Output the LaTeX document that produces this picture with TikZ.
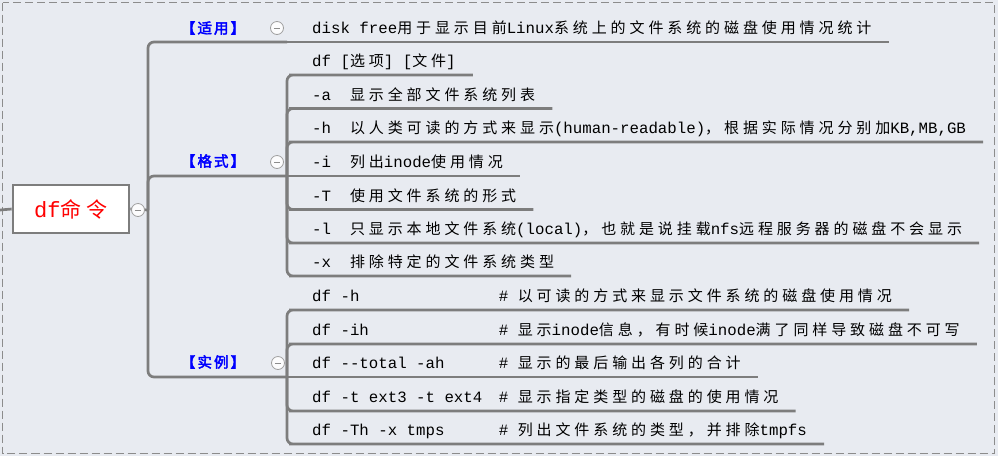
\documentclass[tikz,border=0pt]{standalone}
\usepackage{fontspec}
\setmainfont{Noto Sans CJK SC}[LetterSpace=26]
\newfontfamily\ascfont{Liberation Mono}[Scale=1.05]
\newfontfamily\labfont{Noto Sans CJK SC}[LetterSpace=14,FakeBold=3]
\newcommand\asc[1]{{\ascfont #1}}
\definecolor{bgc}{RGB}{232,235,241}
\definecolor{linec}{RGB}{125,125,125}
\definecolor{bordc}{RGB}{140,140,140}
\definecolor{labc}{RGB}{0,0,255}
\definecolor{rootc}{RGB}{255,0,0}
\tikzset{
  conn/.style={draw=linec, line width=2.7pt, rounded corners=6pt},
  leaf/.style={anchor=south west, inner xsep=17pt, inner ysep=3pt, text height=12pt, text depth=5pt, font=\fontsize{15}{18}\selectfont},
  tlabel/.style={text=labc, font=\labfont\fontsize{14.5}{17}\selectfont, inner sep=1pt},
  rootbox/.style={draw=linec, line width=2.7pt, fill=white, minimum width=116pt, minimum height=48pt, text=rootc, font=\fontsize{21}{25}\selectfont},
  tog/.style={circle, draw=gray!75, fill=white!85!bgc, minimum size=13pt, inner sep=0pt, line width=0.8pt,
    path picture={\draw[gray!90, line width=0.9pt] ([xshift=-3.2pt]path picture bounding box.center) -- ([xshift=3.2pt]path picture bounding box.center);}},
  border/.style={draw=bordc, line width=1.8pt, dash pattern=on 8pt off 4pt}
}
\begin{document}
\begin{tikzpicture}[x=1pt,y=-1pt]
\useasboundingbox (0,0) rectangle (998,456);
\fill[bgc] (0,0) rectangle (998,456);
\draw[border] (2.5,2.5) rectangle (994.5,453.5);

% root
\node[rootbox] (root) at (71,209) {\asc{df}命令};
\coordinate (lstub) at (0,210);
\coordinate (rj) at (148,210);
\coordinate (jU) at (287,42);
\coordinate (jF) at (287,176);
\coordinate (jE) at (287,377);

% branch labels
\node[tlabel] (lU) at (213,28) {【适用】};
\node[tlabel] (lF) at (213,161) {【格式】};
\node[tlabel] (lE) at (213,362) {【实例】};

% leaves: usage
\node[leaf] (u1) at (295,42) {\asc{disk free}用于显示目前\asc{Linux}系统上的文件系统的磁盘使用情况统计};

% leaves: format
\node[leaf] (f1) at (295,75) {\asc{df [}选项\asc{] [}文件\asc{]}};
\node[leaf] (f2) at (295,108.5) {\asc{-a~~}显示全部文件系统列表};
\node[leaf] (f3) at (295,142) {\asc{-h~~}以人类可读的方式来显示\asc{(human-readable)}，根据实际情况分别加\asc{KB,MB,GB}};
\node[leaf] (f4) at (295,176) {\asc{-i~~}列出\asc{inode}使用情况};
\node[leaf] (f5) at (295,209.5) {\asc{-T~~}使用文件系统的形式};
\node[leaf] (f6) at (295,243) {\asc{-l~~}只显示本地文件系统\asc{(local)}，也就是说挂载\asc{nfs}远程服务器的磁盘不会显示};
\node[leaf] (f7) at (295,276) {\asc{-x~~}排除特定的文件系统类型};

% leaves: examples
\node[leaf] (e1) at (295,310) {\makebox[186.7pt][l]{\asc{df -h}}\asc{\#~}以可读的方式来显示文件系统的磁盘使用情况};
\node[leaf] (e2) at (295,344) {\makebox[186.7pt][l]{\asc{df -ih}}\asc{\#~}显示\asc{inode}信息，有时候\asc{inode}满了同样导致磁盘不可写};
\node[leaf] (e3) at (295,377) {\makebox[186.7pt][l]{\asc{df -{}-total -ah}}\asc{\#~}显示的最后输出各列的合计};
\node[leaf] (e4) at (295,411) {\makebox[186.7pt][l]{\asc{df -t ext3 -t ext4}}\asc{\#~}显示指定类型的磁盘的使用情况};
\node[leaf] (e5) at (295,444) {\makebox[186.7pt][l]{\asc{df -Th -x tmps}}\asc{\#~}列出文件系统的类型，并排除\asc{tmpfs}};

% connectors
\draw[conn] (lstub) -- (root.west);
\draw[conn] (root.east) -- (rj);
\draw[conn] (rj) |- (jU);
\draw[conn] (rj) |- (jF);
\draw[conn] (rj) |- (jE);

\draw[conn] (jU) -- (u1.south west) -- (u1.south east);

\foreach \n in {f1,f2,f3,f5,f6,f7}{\draw[conn] (jF) |- (\n.south west) -- (\n.south east);}
\draw[conn] (jF) -- (f4.south west) -- (f4.south east);

\foreach \n in {e1,e2,e4,e5}{\draw[conn] (jE) |- (\n.south west) -- (\n.south east);}
\draw[conn] (jE) -- (e3.south west) -- (e3.south east);

% collapse toggles
\node[tog] (tr) at (138,210) {};
\node[tog] (tU) at (277,28) {};
\node[tog] (tF) at (277,162) {};
\node[tog] (tE) at (278,363) {};
\end{tikzpicture}
\end{document}
